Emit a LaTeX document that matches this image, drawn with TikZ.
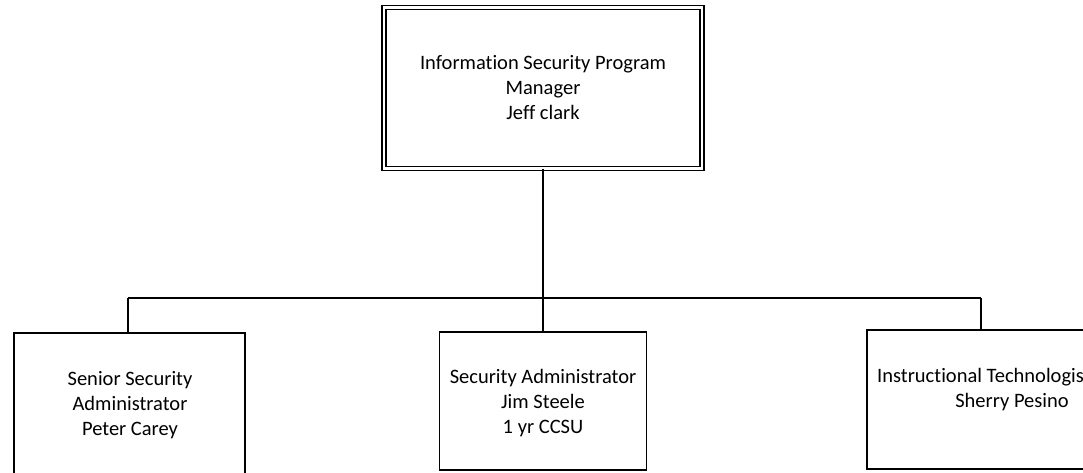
\documentclass[tikz,border=0pt]{standalone}
\usepackage{fontspec}
\setmainfont[Ligatures=NoCommon]{Carlito}
\begin{document}
\begin{tikzpicture}[x=1pt,y=-1pt,
  box/.style={draw=black,line width=1.6pt,rectangle,inner sep=0pt,fill=white},
  dbox/.style={draw=black,line width=1.2pt,double=white,double distance=2.8pt,rectangle,inner sep=0pt},
  txt/.style={align=center,font=\fontsize{20.5}{25}\selectfont,inner sep=0pt},
  conn/.style={draw=black,line width=1.6pt}]
\useasboundingbox (0,0) rectangle (1083,472);
\clip (0,0) rectangle (1083,472);
\fill[white] (0,0) rectangle (1083,472);
% top box
\node[dbox,minimum width=318pt,minimum height=161pt] (top) at (543,88) {};
\node[txt] (ttop) at (543,88) {Information Security Program\\Manager\\Jeff clark};
% bar
\coordinate (bar) at (543,298);
\coordinate (barL) at (128,298);
\coordinate (barR) at (981,298);
% bottom boxes
\node[box,minimum width=231pt,minimum height=145pt] (b1) at (129.5,405.5) {};
\node[txt] (t1) at (130,405) {Senior Security\\Administrator\\Peter Carey};
\node[box,minimum width=207pt,minimum height=138pt] (b2) at (543,401) {};
\node[txt] (t2) at (543,403) {Security Administrator\\Jim Steele\\1 yr CCSU};
\node[box,minimum width=290pt,minimum height=139pt] (b3) at (1012,399.5) {};
\node[txt,anchor=west] (t3a) at (877,377) {Instructional Technologis};
\node[txt] (t3b) at (1012,402) {Sherry Pesino};
% connectors
\draw[conn] (top.south) -- (bar);
\draw[conn] (barL) -- (barR);
\draw[conn] (barL) -- (barL |- b1.north);
\draw[conn] (bar) -- (b2.north);
\draw[conn] (barR) -- (barR |- b3.north);
\end{tikzpicture}
\end{document}
